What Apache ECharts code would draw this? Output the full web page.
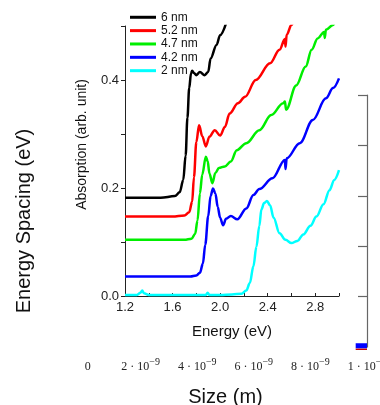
<!DOCTYPE html>
<html><head><meta charset="utf-8">
<script src="https://cdn.jsdelivr.net/npm/echarts@6/dist/echarts.min.js"></script>
<style>html,body{margin:0;padding:0;background:#fff}#c{width:380px;height:405px}</style>
</head><body><div id="c"></div>
<script>
// ---- data ----
const legendNames = ['6 nm', '5.2 nm', '4.7 nm', '4.2 nm', '2 nm'];
const lineColors = ['#000000', '#ff0000', '#00ee00', '#0000ff', '#00ffff'];

const e6 = [1.2, 1.5, 1.62, 1.66, 1.69, 1.71, 1.725, 1.74, 1.755, 1.765, 1.78, 1.80, 1.83, 1.87, 1.90, 1.92, 1.97, 2.00, 2.05];
const a6 = [0.182, 0.182, 0.185, 0.192, 0.215, 0.26, 0.33, 0.385, 0.412, 0.417, 0.413, 0.409, 0.415, 0.409, 0.415, 0.44, 0.465, 0.483, 0.505];

const e52 = [1.2, 1.6, 1.70, 1.74, 1.765, 1.78, 1.80, 1.823, 1.85, 1.88, 1.91, 1.955, 2.00, 2.04, 2.08, 2.15, 2.21, 2.30, 2.42, 2.50, 2.545, 2.55, 2.56, 2.60, 2.62];
const a52 = [0.147, 0.147, 0.149, 0.155, 0.175, 0.22, 0.285, 0.316, 0.296, 0.277, 0.295, 0.307, 0.297, 0.313, 0.338, 0.357, 0.369, 0.40, 0.431, 0.456, 0.476, 0.462, 0.484, 0.502, 0.51];

const e47 = [1.2, 1.7, 1.76, 1.79, 1.81, 1.83, 1.85, 1.88, 1.895, 1.91, 1.935, 1.96, 1.99, 2.04, 2.09, 2.14, 2.22, 2.33, 2.43, 2.53, 2.545, 2.555, 2.64, 2.72, 2.77, 2.82, 2.875, 2.88, 2.89, 2.95, 2.97];
const a47 = [0.104, 0.104, 0.106, 0.115, 0.14, 0.19, 0.225, 0.258, 0.25, 0.227, 0.209, 0.228, 0.237, 0.24, 0.249, 0.27, 0.283, 0.307, 0.335, 0.357, 0.36, 0.345, 0.39, 0.425, 0.456, 0.477, 0.489, 0.478, 0.493, 0.502, 0.51];

const e42 = [1.2, 1.75, 1.80, 1.83, 1.855, 1.875, 1.90, 1.92, 1.94, 1.96, 1.98, 2.00, 2.025, 2.05, 2.09, 2.145, 2.22, 2.28, 2.33, 2.44, 2.545, 2.55, 2.56, 2.67, 2.78, 2.89, 2.95, 3.0];
const a42 = [0.036, 0.036, 0.038, 0.043, 0.06, 0.095, 0.148, 0.185, 0.199, 0.19, 0.165, 0.145, 0.131, 0.143, 0.148, 0.142, 0.162, 0.187, 0.198, 0.218, 0.252, 0.235, 0.255, 0.283, 0.326, 0.366, 0.385, 0.403];

const e2 = [1.2, 1.30, 1.33, 1.345, 1.36, 1.40, 1.88, 1.895, 1.91, 2.0, 2.10, 2.18, 2.22, 2.25, 2.28, 2.305, 2.33, 2.347, 2.37, 2.394, 2.42, 2.45, 2.50, 2.55, 2.60, 2.65, 2.70, 2.76, 2.81, 2.87, 2.92, 2.96, 3.0];
const a2 = [0.002, 0.002, 0.006, 0.010, 0.005, 0.002, 0.002, 0.006, 0.002, 0.002, 0.003, 0.004, 0.01, 0.024, 0.055, 0.091, 0.13, 0.16, 0.172, 0.176, 0.168, 0.145, 0.116, 0.104, 0.098, 0.102, 0.114, 0.13, 0.147, 0.17, 0.196, 0.215, 0.233];

const energyTicksLabeled = [1.2, 1.6, 2.0, 2.4, 2.8];
const absTicksLabeled = [0.0, 0.2, 0.4];

// outer (size) chart
const sizeMax = 1e-8;
const outerMarkX = [9.6e-9, 1e-8];
const outerBlueY = [0.025, 0.025];
const outerRedY = [-0.045, -0.045];

// ---- chart ----
const pairs = (xs, ys) => xs.map((x, i) => [x, ys[i]]);
const insetX = [e6, e52, e47, e42, e2];
const insetY = [a6, a52, a47, a42, a2];
const SANS = "'Liberation Sans', Arial, sans-serif";
const SERIF = "'Liberation Serif', 'Times New Roman', serif";
const axisCol = '#222';

const chart = echarts.init(document.getElementById('c'), null, {renderer: 'canvas'});

const insetSeries = legendNames.map((n, i) => ({
  name: n, type: 'line', xAxisIndex: 1, yAxisIndex: 2,
  data: pairs(insetX[i], insetY[i]),
  showSymbol: false, symbol: 'none', smooth: 0.35, smoothMonotone: 'x',
  lineStyle: {color: lineColors[i], width: 2.5}, itemStyle: {color: lineColors[i]},
  z: 5, animation: false
}));

const has = (arr, v) => arr.some(t => Math.abs(t - v) < 1e-6);

chart.setOption({
  animation: false,
  backgroundColor: '#fff',
  textStyle: {fontFamily: SANS},
  legend: {
    data: legendNames, orient: 'vertical', left: 130, top: 10.6, padding: 0,
    icon: 'rect', itemWidth: 26, itemHeight: 3, itemGap: 0,
    textStyle: {fontSize: 12, lineHeight: 13.35, color: '#111', fontFamily: SANS}
  },
  grid: [
    {left: 84, right: 13, top: 95, bottom: 58, outerBoundsMode: 'none', containLabel: false},
    {left: 125, right: 41, top: 26, bottom: 109, outerBoundsMode: 'none', containLabel: false}
  ],
  xAxis: [
    {
      gridIndex: 0, type: 'value', min: 0, max: sizeMax, interval: 2e-9,
      name: 'Size (m)', nameLocation: 'middle', nameGap: 40,
      nameTextStyle: {fontSize: 20, color: '#111', fontFamily: SANS},
      axisLine: {show: false, onZero: false}, axisTick: {show: false}, splitLine: {show: false},
      axisLabel: {
        margin: 12, color: '#222',
        formatter: v => {
          const m = Math.round(v / 1e-9);
          if (m === 0) return '{p| }{b|0}{s| }';
          if (m === 10) return '{b|1 · 10}{s|−8}';
          return '{b|' + m + ' · 10}{s|−9}';
        },
        rich: {
          p: {width: 10, fontSize: 10, lineHeight: 12},
          b: {fontFamily: SERIF, fontSize: 12, lineHeight: 14, verticalAlign: 'bottom', color: '#222'},
          s: {fontFamily: SERIF, fontSize: 10, lineHeight: 12, verticalAlign: 'bottom', padding: [0, 0, 6, 0], color: '#222'}
        }
      }
    },
    {
      gridIndex: 1, type: 'value', min: 1.2, max: 3.0, interval: 0.2,
      name: 'Energy (eV)', nameLocation: 'middle', nameGap: 28,
      nameTextStyle: {fontSize: 15, color: '#111', fontFamily: SANS},
      axisLine: {onZero: false, lineStyle: {color: axisCol, width: 1}},
      axisTick: {inside: true, length: 3, lineStyle: {color: axisCol}},
      splitLine: {show: false},
      axisLabel: {margin: 5, fontSize: 13, color: '#222',
        formatter: v => has(energyTicksLabeled, v) ? v.toFixed(1) : ''}
    }
  ],
  yAxis: [
    {
      gridIndex: 0, type: 'value', min: 0, max: 5, interval: 1, position: 'right',
      axisLine: {show: true, onZero: false, lineStyle: {color: '#666', width: 1.2}},
      axisTick: {show: true, inside: true, length: 9, lineStyle: {color: '#666', width: 1.2}},
      axisLabel: {show: false}, splitLine: {show: false}
    },
    {
      gridIndex: 0, type: 'value', min: 0, max: 5, position: 'left',
      name: 'Energy Spacing (eV)', nameLocation: 'middle', nameGap: 50,
      nameTextStyle: {fontSize: 20, color: '#111', fontFamily: SANS},
      axisLine: {show: false, onZero: false}, axisTick: {show: false}, axisLabel: {show: false}, splitLine: {show: false}
    },
    {
      gridIndex: 1, type: 'value', min: 0, max: 0.5, interval: 0.1,
      name: 'Absorption (arb. unit)', nameLocation: 'middle', nameGap: 36,
      nameTextStyle: {fontSize: 14, color: '#111', fontFamily: SANS, padding: [0, 0, 0, 33]},
      axisLine: {show: true, onZero: false, lineStyle: {color: axisCol, width: 1}},
      axisTick: {show: true, length: 4, lineStyle: {color: axisCol}},
      splitLine: {show: false},
      axisLabel: {margin: 6, fontSize: 13, color: '#222',
        formatter: v => has(absTicksLabeled, v) ? v.toFixed(1) : ''}
    }
  ],
  series: [
    {type: 'line', xAxisIndex: 0, yAxisIndex: 0, data: pairs(outerMarkX, outerRedY), clip: false,
     showSymbol: false, symbol: 'none', lineStyle: {color: '#cc0000', width: 1.5}, z: 2},
    {type: 'line', xAxisIndex: 0, yAxisIndex: 0, data: pairs(outerMarkX, outerBlueY), clip: false,
     showSymbol: false, symbol: 'none', lineStyle: {color: '#0000ff', width: 5, cap: 'butt'}, z: 3},
    ...insetSeries
  ]
});
</script>
</body></html>
